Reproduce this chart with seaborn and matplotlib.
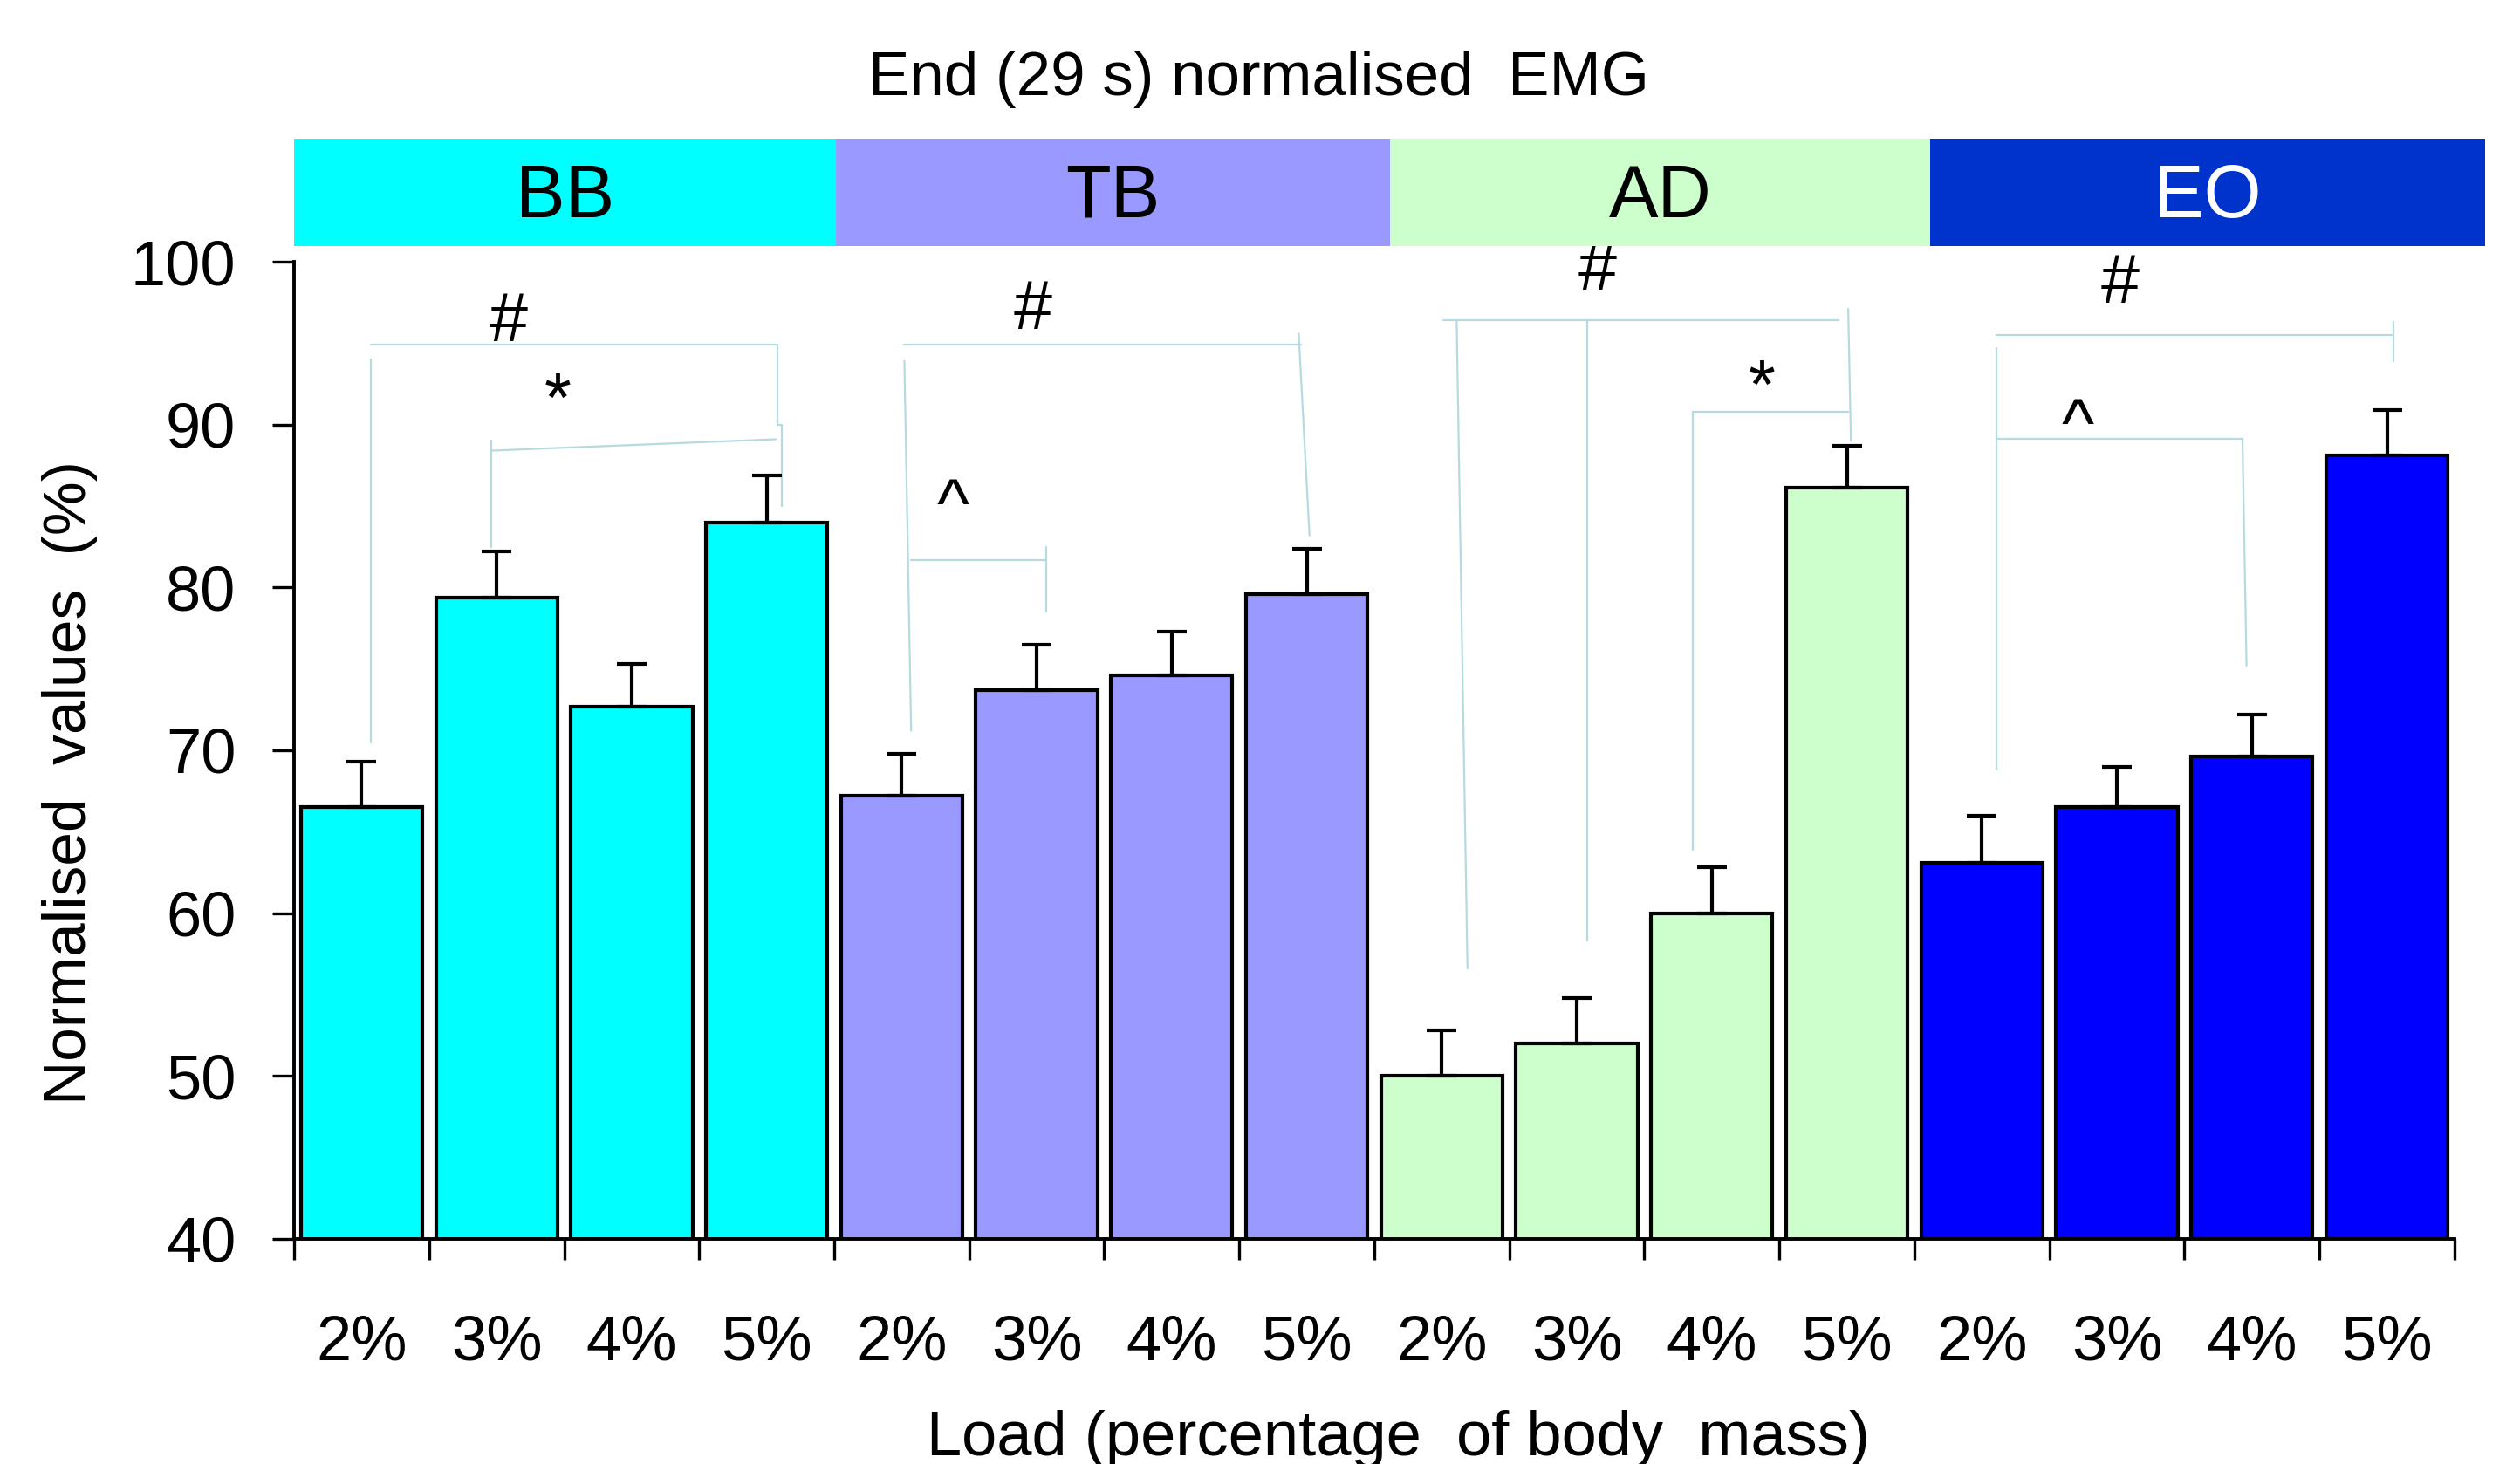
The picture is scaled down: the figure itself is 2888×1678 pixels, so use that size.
import numpy as np
import pandas as pd
import matplotlib
matplotlib.use("Agg")
import matplotlib.pyplot as plt
from matplotlib.patches import Rectangle
import seaborn as sns

# Data
muscles = ["BB", "TB", "AD", "EO"]
loads = ["2%", "3%", "4%", "5%"]
bb_vals = [66.5, 79.4, 72.7, 84.0]
tb_vals = [67.2, 73.7, 74.6, 79.6]
ad_vals = [50.0, 52.0, 60.0, 86.1]
eo_vals = [63.1, 66.5, 69.6, 88.1]
bb_err = [2.8, 2.8, 2.6, 2.9]
tb_err = [2.6, 2.8, 2.7, 2.8]
ad_err = [2.8, 2.8, 2.8, 2.6]
eo_err = [2.9, 2.5, 2.6, 2.8]

bar_cols = {"BB": "#00FFFF", "TB": "#9999FF", "AD": "#CCFFCC", "EO": "#0000FF"}
head_cols = {"BB": "#00FFFF", "TB": "#9999FF", "AD": "#CCFFCC", "EO": "#0033CC"}
head_txt = {"BB": "black", "TB": "black", "AD": "black", "EO": "white"}

# significance brackets (x in bar index units, y in % units)
brackets = [
    [(0.07, 70.5), (0.07, 94.0)],
    [(0.07, 94.9), (3.08, 94.9), (3.08, 90.0), (3.11, 90.0), (3.11, 85.0)],
    [(0.96, 82.5), (0.96, 89.0)],
    [(0.96, 88.4), (3.07, 89.1)],
    [(4.02, 93.9), (4.07, 71.2)],
    [(4.02, 94.9), (6.96, 94.9)],
    [(6.94, 95.6), (7.02, 83.2)],
    [(4.07, 81.7), (5.07, 81.7)],
    [(5.07, 82.5), (5.07, 78.5)],
    [(8.01, 96.4), (10.94, 96.4)],
    [(8.11, 96.4), (8.19, 56.6)],
    [(9.08, 96.4), (9.08, 58.3)],
    [(11.01, 97.1), (11.03, 89.0)],
    [(9.86, 90.8), (11.01, 90.8)],
    [(9.86, 90.8), (9.86, 63.9)],
    [(12.11, 95.5), (15.05, 95.5)],
    [(15.05, 96.3), (15.05, 93.9)],
    [(12.11, 94.7), (12.11, 68.8)],
    [(12.11, 89.1), (13.93, 89.1)],
    [(13.93, 89.1), (13.96, 75.2)],
]
sig_marks = [
    ("#", 1.09, 95.1), ("*", 1.45, 90.2),
    ("#", 4.97, 95.9), ("^", 4.38, 83.7),
    ("#", 9.15, 98.3), ("*", 10.37, 91.0),
    ("#", 13.02, 97.5), ("^", 12.71, 88.65),
]

df = pd.DataFrame({
    "muscle": np.repeat(muscles, len(loads)),
    "load": loads * len(muscles),
    "value": bb_vals + tb_vals + ad_vals + eo_vals,
    "err": bb_err + tb_err + ad_err + eo_err,
})
df["cond"] = df["muscle"] + " " + df["load"]

sns.set_style("white")
plt.rcParams["font.family"] = ["Liberation Sans", "DejaVu Sans"]
plt.rcParams.update({"text.color": "black", "axes.labelcolor": "black",
                     "xtick.color": "black", "ytick.color": "black"})

fig = plt.figure(figsize=(28.88, 16.78), dpi=100)
ax = fig.add_axes([0.1167, 0.1538, 0.974 - 0.1167, 0.8212 - 0.1538])

sns.barplot(data=df, x="cond", y="value", hue="muscle", palette=bar_cols,
            dodge=False, width=0.9, edgecolor="black", linewidth=3.0,
            saturation=1, legend=False, errorbar=None, ax=ax)

xs = np.arange(len(df))
ax.errorbar(xs, df["value"], yerr=[np.zeros(len(df)), df["err"]], fmt="none",
            ecolor="black", elinewidth=3.0, capsize=12, capthick=3.0, zorder=5)

for pts in brackets:
    bx, by = zip(*pts)
    ax.plot(bx, by, color="#B5DADF", lw=1.6, zorder=1)
for s, sx, sy in sig_marks:
    ax.text(sx, sy, s, ha="center", va="baseline", fontsize=57, color="black")

ax.set_xlim(-0.5, 15.5)
ax.set_ylim(40, 100)
ax.set_yticks(np.arange(40, 101, 10))
ax.set_xticks(xs)
ax.set_xticklabels(df["load"])
ax.set_xticks(np.arange(-0.5, 15.6, 1), minor=True)
ax.tick_params(axis="x", which="major", length=0, pad=62, labelsize=52)
ax.tick_params(axis="x", which="minor", length=17, width=2.4, direction="out", bottom=True)
ax.tick_params(axis="y", length=18, width=2.4, direction="out", left=True, pad=30, labelsize=52)
for side in ["top", "right"]:
    ax.spines[side].set_visible(False)
for side in ["left", "bottom"]:
    ax.spines[side].set_linewidth(2.8)
    ax.spines[side].set_color("black")

ax.set_xlabel("Load (percentage  of body  mass)", fontsize=52)
ax.xaxis.set_label_coords(0.511, -0.175)
ax.set_ylabel("Normalised  values  (%)", fontsize=50)
ax.yaxis.set_label_coords(-0.091, 0.467)

fig.text(0.4993, 0.946, "End (29 s) normalised  EMG", ha="center", va="center", fontsize=51)

# coloured muscle header bands
edges = [337, 958, 1593, 2212, 2848]
for i, m in enumerate(muscles):
    x0 = edges[i] / 2888
    w = (edges[i + 1] - edges[i]) / 2888
    fig.add_artist(Rectangle((x0, 0.832), w, 0.073, transform=fig.transFigure,
                             facecolor=head_cols[m], edgecolor="none"))
    fig.text(x0 + w / 2, 0.865, m, ha="center", va="center", fontsize=61,
             color=head_txt[m])

fig.savefig("out.png", dpi=100)
